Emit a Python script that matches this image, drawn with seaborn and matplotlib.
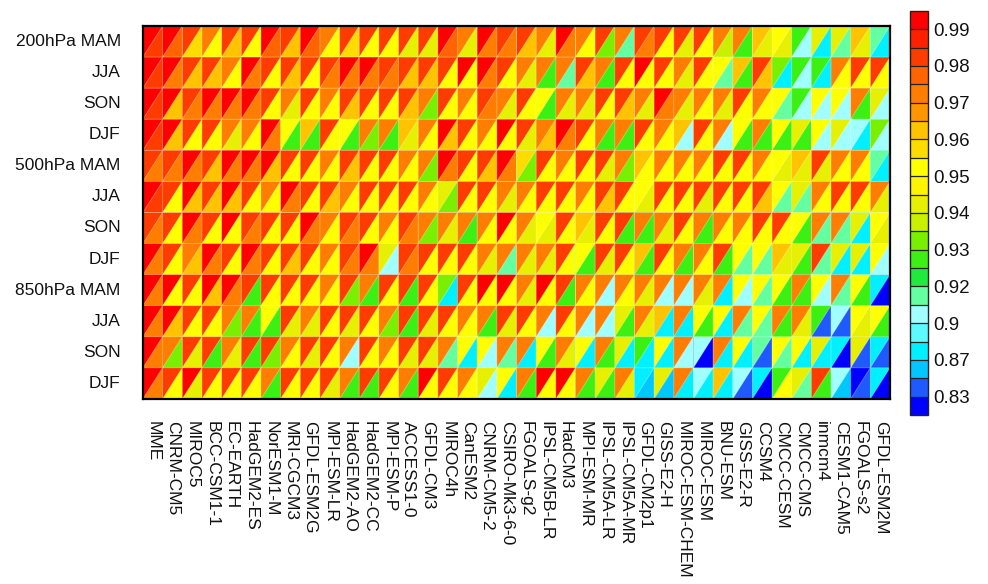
import numpy as np
import matplotlib
matplotlib.use("Agg")
import matplotlib.pyplot as plt
from matplotlib.colors import ListedColormap, BoundaryNorm
from matplotlib.collections import PolyCollection
import seaborn as sns

models = ["MME", "CNRM-CM5", "MIROC5", "BCC-CSM1-1", "EC-EARTH", "HadGEM2-ES",
          "NorESM1-M", "MRI-CGCM3", "GFDL-ESM2G", "MPI-ESM-LR", "HadGEM2-AO",
          "HadGEM2-CC", "MPI-ESM-P", "ACCESS1-0", "GFDL-CM3", "MIROC4h", "CanESM2",
          "CNRM-CM5-2", "CSIRO-Mk3-6-0", "FGOALS-g2", "IPSL-CM5B-LR", "HadCM3",
          "MPI-ESM-MR", "IPSL-CM5A-LR", "IPSL-CM5A-MR", "GFDL-CM2p1", "GISS-E2-H",
          "MIROC-ESM-CHEM", "MIROC-ESM", "BNU-ESM", "GISS-E2-R", "CCSM4",
          "CMCC-CESM", "CMCC-CMS", "inmcm4", "CESM1-CAM5", "FGOALS-s2", "GFDL-ESM2M"]

row_labels = ["200hPa MAM", "JJA", "SON", "DJF",
              "500hPa MAM", "JJA", "SON", "DJF",
              "850hPa MAM", "JJA", "SON", "DJF"]

# upper-left triangles (rows: MAM, JJA, SON, DJF)
upper_200 = [
    [.993, .993, .982, .972, .982, .982, .993, .982, .993, .972, .982, .982, .982, .982, .982, .993, .972, .993, .982,
     .982, .972, .993, .972, .982, .972, .982, .982, .982, .982, .972, .972, .962, .952, .927, .942, .942, .962, .915],
    [.993, .993, .982, .982, .972, .993, .982, .982, .982, .982, .993, .993, .982, .982, .982, .982, .993, .993, .982,
     .972, .972, .972, .982, .972, .982, .993, .982, .972, .982, .952, .962, .982, .932, .927, .927, .972, .982, .982],
    [.993, .993, .982, .993, .993, .993, .982, .972, .982, .972, .982, .982, .982, .982, .972, .982, .972, .982, .972,
     .982, .952, .972, .972, .982, .982, .972, .993, .972, .972, .972, .982, .972, .952, .927, .952, .952, .972, .942],
    [.993, .993, .982, .982, .972, .972, .993, .952, .962, .982, .952, .972, .972, .962, .972, .993, .982, .972, .993,
     .982, .972, .993, .982, .972, .972, .982, .972, .962, .982, .972, .952, .972, .952, .942, .952, .942, .905, .932],
]
upper_500 = [
    [.982, .982, .993, .982, .993, .993, .993, .982, .982, .972, .982, .982, .982, .972, .972, .993, .982, .982, .993,
     .957, .982, .972, .982, .982, .972, .962, .972, .972, .972, .982, .982, .972, .952, .962, .982, .972, .972, .915],
    [.993, .982, .993, .982, .993, .982, .972, .993, .982, .982, .972, .982, .982, .982, .972, .942, .982, .982, .972,
     .972, .982, .982, .972, .982, .982, .952, .982, .982, .982, .982, .982, .982, .952, .942, .972, .982, .982, .972],
    [.982, .982, .993, .982, .993, .982, .982, .982, .993, .972, .982, .982, .972, .982, .972, .972, .972, .972, .993,
     .972, .952, .982, .962, .982, .982, .972, .972, .982, .972, .972, .972, .982, .982, .952, .972, .972, .942, .952],
    [.993, .982, .972, .993, .982, .993, .982, .982, .982, .972, .982, .993, .942, .982, .982, .982, .982, .972, .972,
     .972, .972, .982, .952, .982, .982, .962, .982, .972, .972, .982, .952, .952, .962, .942, .982, .942, .942, .952],
]
upper_850 = [
    [.993, .993, .982, .993, .993, .982, .982, .982, .982, .972, .982, .972, .982, .982, .982, .932, .982, .993, .993,
     .972, .993, .982, .972, .972, .972, .972, .972, .972, .972, .972, .952, .952, .952, .972, .952, .972, .952, .878],
    [.993, .993, .982, .982, .972, .972, .952, .982, .972, .982, .982, .982, .972, .982, .982, .982, .972, .972, .982,
     .982, .972, .982, .972, .972, .942, .972, .962, .972, .952, .952, .972, .952, .972, .972, .927, .905, .952, .952],
    [.993, .972, .982, .982, .972, .982, .982, .972, .982, .982, .972, .982, .972, .982, .982, .972, .952, .952, .972,
     .972, .952, .972, .952, .972, .942, .927, .952, .972, .905, .972, .952, .915, .952, .952, .942, .878, .942, .878],
    [.993, .982, .993, .982, .982, .982, .972, .982, .982, .982, .972, .982, .982, .972, .993, .982, .972, .942, .952,
     .972, .993, .993, .972, .942, .972, .878, .942, .972, .905, .962, .905, .878, .927, .942, .982, .905, .820, .878],
]

# lower-right triangles (rows: MAM, JJA, SON, DJF)
lower_200 = [
    [.982, .977, .957, .952, .962, .952, .977, .962, .977, .952, .957, .952, .952, .942, .942, .977, .942, .972, .972,
     .962, .942, .972, .952, .932, .915, .972, .952, .942, .952, .937, .927, .942, .942, .905, .878, .915, .942, .878],
    [.982, .972, .962, .962, .952, .972, .952, .962, .952, .972, .972, .972, .972, .962, .962, .952, .952, .972, .952,
     .942, .927, .915, .962, .927, .952, .952, .952, .942, .952, .915, .927, .962, .878, .905, .878, .952, .952, .952],
    [.982, .962, .972, .972, .972, .972, .952, .942, .952, .952, .962, .952, .952, .962, .932, .952, .952, .972, .942,
     .952, .927, .942, .942, .952, .962, .942, .972, .942, .952, .942, .952, .952, .915, .905, .905, .905, .927, .905],
    [.982, .962, .952, .952, .942, .952, .972, .927, .927, .952, .927, .932, .927, .942, .952, .962, .952, .952, .952,
     .942, .962, .972, .952, .927, .927, .952, .952, .905, .952, .905, .927, .927, .927, .927, .905, .905, .878, .905],
]
lower_500 = [
    [.972, .972, .972, .962, .972, .972, .962, .952, .952, .952, .962, .952, .952, .952, .932, .972, .952, .962, .972,
     .932, .952, .952, .952, .942, .932, .952, .952, .952, .952, .952, .952, .952, .942, .942, .942, .952, .952, .878],
    [.982, .952, .962, .962, .962, .952, .952, .972, .952, .962, .952, .952, .952, .952, .952, .932, .952, .952, .942,
     .952, .952, .952, .952, .962, .952, .942, .952, .952, .942, .952, .952, .962, .915, .915, .952, .952, .952, .942],
    [.972, .952, .972, .952, .952, .972, .952, .952, .972, .952, .972, .952, .952, .972, .932, .942, .927, .952, .952,
     .942, .942, .952, .942, .952, .927, .927, .942, .952, .927, .952, .952, .952, .952, .927, .915, .915, .878, .942],
    [.972, .952, .962, .972, .952, .972, .952, .962, .952, .952, .972, .972, .905, .972, .952, .952, .952, .942, .915,
     .942, .942, .952, .927, .942, .952, .927, .952, .927, .952, .927, .915, .915, .942, .927, .915, .878, .878, .905],
]
lower_850 = [
    [.972, .952, .952, .962, .972, .927, .952, .952, .952, .952, .932, .927, .952, .927, .952, .878, .952, .952, .952,
     .942, .952, .927, .952, .905, .952, .942, .905, .905, .942, .878, .905, .915, .927, .927, .905, .915, .927, .820],
    [.972, .962, .952, .952, .932, .927, .927, .942, .942, .952, .942, .952, .932, .927, .942, .952, .952, .927, .942,
     .952, .905, .952, .905, .905, .927, .942, .878, .878, .927, .878, .915, .915, .927, .942, .840, .840, .942, .927],
    [.972, .932, .942, .927, .942, .927, .932, .952, .942, .952, .905, .952, .952, .942, .942, .915, .878, .905, .915,
     .878, .927, .942, .878, .927, .878, .878, .878, .905, .820, .878, .878, .840, .915, .878, .878, .820, .840, .840],
    [.972, .952, .942, .952, .952, .952, .927, .952, .952, .942, .927, .927, .952, .927, .952, .952, .952, .905, .878,
     .927, .952, .952, .927, .927, .942, .860, .860, .878, .878, .878, .840, .820, .952, .915, .927, .860, .840, .820],
]

# colour levels: 22 classes, every second boundary labelled
levels = [0.80, 0.83, 0.85, 0.87, 0.885, 0.90, 0.91, 0.92, 0.925, 0.93, 0.935, 0.94,
          0.945, 0.95, 0.955, 0.96, 0.965, 0.97, 0.975, 0.98, 0.985, 0.99, 1.0]
palette = ["#0000FF", "#1E5AFF", "#00C8FF", "#00F0FF", "#5AFAFF", "#A0FFFF",
           "#64FFA0", "#1EEB3C", "#3CF014", "#78F000", "#C8F000", "#E6F000",
           "#FFF500", "#FFFF00", "#FFDC00", "#FFC300", "#FF9600", "#FF7D00",
           "#FF6400", "#FF3C00", "#FF2000", "#FF0000"]
tick_values = [0.83, 0.87, 0.90, 0.92, 0.93, 0.94, 0.95, 0.96, 0.97, 0.98, 0.99]
tick_labels = ["0.83", "0.87", "0.9", "0.92", "0.93", "0.94", "0.95", "0.96",
               "0.97", "0.98", "0.99"]

upper = np.array(upper_200 + upper_500 + upper_850)
lower = np.array(lower_200 + lower_500 + lower_850)

cmap = ListedColormap(palette)
norm = BoundaryNorm(levels, cmap.N)

sns.set_theme(style="white")
plt.rcParams["font.family"] = ["Liberation Sans", "DejaVu Sans"]

fig = plt.figure(figsize=(9.88, 5.84), dpi=100)
ax = fig.add_axes([0.1447, 0.317, 0.7561, 0.6385])
cax = fig.add_axes([0.921, 0.2894, 0.0182, 0.692])

edge = (1, 1, 1, 0.35)

# full cells carry the lower-right value
sns.heatmap(lower, ax=ax, cmap=cmap, norm=norm, cbar_ax=cax,
            xticklabels=models, yticklabels=row_labels,
            linewidths=0.6, linecolor=edge,
            cbar_kws={"drawedges": True, "ticks": tick_values})

# upper-left triangles on top of each cell
nrow, ncol = upper.shape
verts = [[(j, i), (j + 1, i), (j, i + 1)] for i in range(nrow) for j in range(ncol)]
tri = PolyCollection(verts, array=upper.ravel(), cmap=cmap, norm=norm,
                     edgecolors=[edge], linewidths=0.6)
ax.add_collection(tri)

for sp in ax.spines.values():
    sp.set_visible(True)
    sp.set_color("black")
    sp.set_linewidth(1.6)
    sp.set_zorder(5)

ax.tick_params(axis="both", length=0)
ax.tick_params(axis="x", pad=16)
ax.tick_params(axis="y", pad=16)
ax.set_xticklabels(models, rotation=-90, ha="center", va="top",
                   fontsize=12.5, color="#111111")
ax.set_yticklabels(row_labels, rotation=0, ha="right", va="center",
                   fontsize=12.5, color="#111111")
ax.set_xlabel("")
ax.set_ylabel("")

cb = ax.collections[0].colorbar
cb.set_ticks(tick_values, labels=tick_labels)
cb.ax.minorticks_off()
cb.ax.tick_params(which="both", length=0, width=0, labelsize=13.5, pad=4,
                  colors="#111111")
cb.outline.set_visible(True)
cb.outline.set_linewidth(1.0)
cb.outline.set_edgecolor("#222222")
cb.dividers.set_color("#222222")
cb.dividers.set_linewidth(0.9)

fig.savefig("out.png", dpi=100, facecolor="white")
